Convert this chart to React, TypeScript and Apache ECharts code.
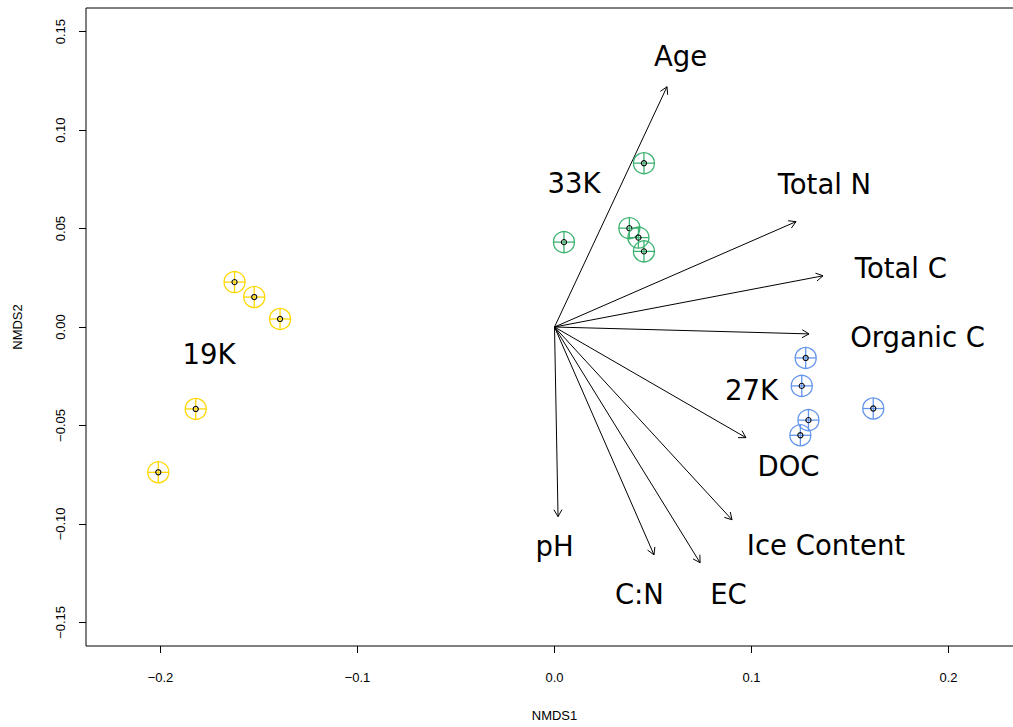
import React, { useEffect, useRef } from "react";
import * as echarts from "echarts";

// NMDS site scores
const site19K: [number, number][] = [
  [-0.1624, 0.0228],
  [-0.1524, 0.0152],
  [-0.1393, 0.0041],
  [-0.1821, -0.0416],
  [-0.2011, -0.0738],
];
const site33K: [number, number][] = [
  [0.0454, 0.0832],
  [0.0048, 0.0431],
  [0.0380, 0.0502],
  [0.0426, 0.0454],
  [0.0454, 0.0384],
];
const site27K: [number, number][] = [
  [0.1275, -0.0157],
  [0.1255, -0.0299],
  [0.1289, -0.0473],
  [0.1248, -0.0550],
  [0.1618, -0.0414],
];

// environmental vectors (arrow tips)
const vectorNames = ["Age", "Total N", "Total C", "Organic C", "DOC", "Ice Content", "EC", "C:N", "pH"];
const vectorTips: [number, number][] = [
  [0.0571, 0.1220],
  [0.1226, 0.0535],
  [0.1363, 0.0260],
  [0.1292, -0.0035],
  [0.0972, -0.0562],
  [0.0901, -0.0979],
  [0.0739, -0.1197],
  [0.0505, -0.1157],
  [0.0018, -0.0963],
];
const vectorLabelPos: [number, number][] = [
  [0.0640, 0.1378],
  [0.1370, 0.0728],
  [0.1758, 0.0301],
  [0.1843, -0.0050],
  [0.1188, -0.0705],
  [0.1378, -0.1105],
  [0.0883, -0.1355],
  [0.0431, -0.1355],
  [0.0000, -0.1112],
];

// group labels
const groupNames = ["33K", "27K", "19K"];
const groupLabelPos: [number, number][] = [
  [0.0099, 0.0730],
  [0.1000, -0.0318],
  [-0.1754, -0.0136],
];

const xTicks = [-0.2, -0.1, 0.0, 0.1, 0.2];
const yTicks = [-0.15, -0.1, -0.05, 0.0, 0.05, 0.1, 0.15];

const fmt = (v: number, d: number) => {
  const s = Math.abs(v).toFixed(d);
  return v < -1e-9 ? "\u2212" + s : s;
};

function markerSeries(data: [number, number][], color: string) {
  return {
    type: "custom",
    coordinateSystem: "cartesian2d",
    data,
    renderItem: (params: any, api: any) => {
      const p = api.coord([api.value(0), api.value(1)]);
      const r = 10.5;
      return {
        type: "group",
        children: [
          { type: "circle", shape: { cx: p[0], cy: p[1], r }, style: { fill: "none", stroke: color, lineWidth: 1.3 } },
          { type: "line", shape: { x1: p[0] - r, y1: p[1], x2: p[0] + r, y2: p[1] }, style: { stroke: color, lineWidth: 1.3 } },
          { type: "line", shape: { x1: p[0], y1: p[1] - r, x2: p[0], y2: p[1] + r }, style: { stroke: color, lineWidth: 1.3 } },
          { type: "circle", shape: { cx: p[0], cy: p[1], r: 2.6 }, style: { fill: "none", stroke: "#000", lineWidth: 1.1 } },
        ],
      };
    },
    z: 3,
  };
}

function textSeries(names: string[], pos: [number, number][]) {
  return {
    type: "custom",
    coordinateSystem: "cartesian2d",
    data: pos.map((p, i) => [p[0], p[1], i]),
    renderItem: (params: any, api: any) => {
      const p = api.coord([api.value(0), api.value(1)]);
      return {
        type: "text",
        x: p[0],
        y: p[1],
        style: {
          text: names[api.value(2)],
          fill: "#000",
          fontSize: 27.5,
          fontFamily: "DejaVu Sans",
          align: "center",
          verticalAlign: "middle",
        },
      };
    },
    z: 4,
  };
}

export default function App() {
  const ref = useRef<HTMLDivElement>(null);
  useEffect(() => {
    if (!ref.current) return;
    const chart = echarts.init(ref.current, undefined, { renderer: "svg" });
    const axisFont = { fontFamily: "Liberation Sans", fontSize: 13, color: "#000" };
    chart.setOption({
      animation: false,
      backgroundColor: "#fff",
      grid: {
        left: 86,
        top: 8,
        width: 937,
        height: 638,
        show: true,
        borderColor: "#000",
        borderWidth: 1,
        backgroundColor: "transparent",
        containLabel: false,
        outerBoundsMode: "none",
      },
      xAxis: {
        type: "value",
        min: -0.2378,
        max: 0.2378,
        name: "NMDS1",
        nameLocation: "middle",
        nameGap: 63,
        nameTextStyle: axisFont,
        splitLine: { show: false },
        axisLine: { show: false, onZero: false },
        axisTick: { show: true, length: 7, lineStyle: { color: "#000" }, customValues: xTicks },
        axisLabel: { ...axisFont, margin: 25, customValues: xTicks, formatter: (v: number) => fmt(v, 1) },
      },
      yAxis: {
        type: "value",
        min: -0.162,
        max: 0.162,
        name: "NMDS2",
        nameLocation: "middle",
        nameGap: 62,
        nameRotate: 90,
        nameTextStyle: axisFont,
        splitLine: { show: false },
        axisLine: { show: false, onZero: false },
        axisTick: { show: true, length: 7, lineStyle: { color: "#000" }, customValues: yTicks },
        axisLabel: { ...axisFont, margin: 19, rotate: 90, customValues: yTicks, formatter: (v: number) => fmt(v, 2) },
      },
      series: [
        {
          type: "custom",
          coordinateSystem: "cartesian2d",
          data: vectorTips,
          renderItem: (params: any, api: any) => {
            const o = api.coord([0, 0]);
            const e = api.coord([api.value(0), api.value(1)]);
            const ang = Math.atan2(e[1] - o[1], e[0] - o[0]);
            const L = 8;
            const a = Math.PI / 6;
            const h1 = [e[0] - L * Math.cos(ang - a), e[1] - L * Math.sin(ang - a)];
            const h2 = [e[0] - L * Math.cos(ang + a), e[1] - L * Math.sin(ang + a)];
            return {
              type: "group",
              children: [
                { type: "line", shape: { x1: o[0], y1: o[1], x2: e[0], y2: e[1] }, style: { stroke: "#000", lineWidth: 1 } },
                { type: "polyline", shape: { points: [h1, e, h2] }, style: { stroke: "#000", fill: "none", lineWidth: 1 } },
              ],
            };
          },
          z: 2,
        },
        markerSeries(site19K, "#FFD700"),
        markerSeries(site33K, "#3CB371"),
        markerSeries(site27K, "#6495ED"),
        textSeries(vectorNames, vectorLabelPos),
        textSeries(groupNames, groupLabelPos),
      ],
    });
    return () => chart.dispose();
  }, []);
  return (
    <div style={{ position: "fixed", left: 0, top: 0, width: 1013, height: 727, overflow: "hidden", background: "#fff" }}>
      <div ref={ref} style={{ width: 1040, height: 727 }} />
    </div>
  );
}
